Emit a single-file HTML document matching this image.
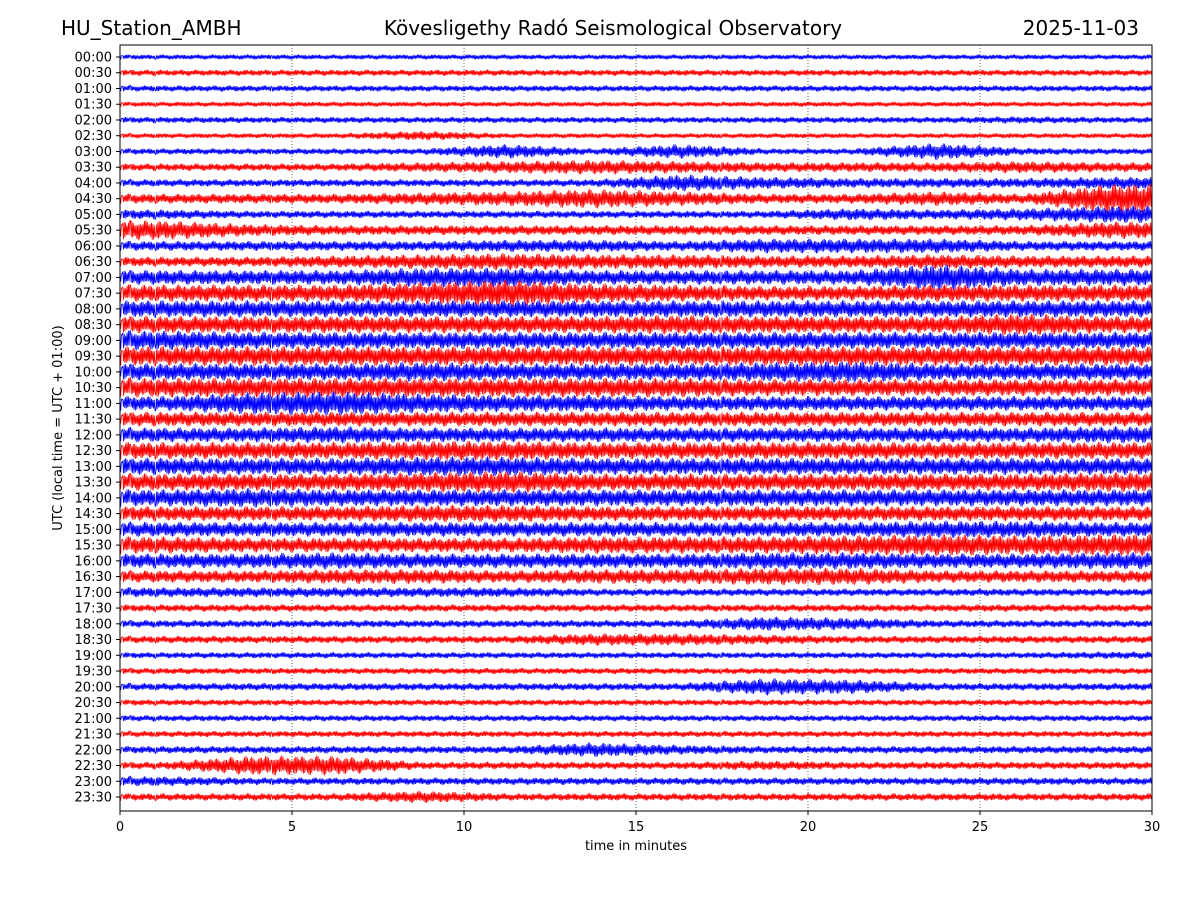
<!DOCTYPE html>
<html><head><meta charset="utf-8"><style>
body{margin:0;background:#fff;}
svg{display:block;font-family:"DejaVu Sans","Liberation Sans",sans-serif;}
</style></head><body>
<svg id="chart" width="1200" height="900" viewBox="0 0 1200 900" xmlns="http://www.w3.org/2000/svg">
<rect width="1200" height="900" fill="#fff"/>
<text x="61" y="35" font-size="20">HU_Station_AMBH</text>
<text x="613" y="35" font-size="20" text-anchor="middle">Kövesligethy Radó Seismological Observatory</text>
<text x="1139" y="35" font-size="20" text-anchor="end">2025-11-03</text>
<g id="grid"></g>
<g id="traces"></g>
<g id="yaxis"></g>
<g id="xaxis"></g>
<rect x="120" y="45" width="1032" height="766" fill="none" stroke="#000" stroke-width="1"/>
<text x="636" y="850" font-size="13" text-anchor="middle">time in minutes</text>
<text transform="translate(62,428) rotate(-90)" font-size="13" text-anchor="middle">UTC (local time = UTC + 01:00)</text>
</svg>
<script>
const xTicks=[0,5,10,15,20,25,30];
const rowLabels=[];
for(let h=0;h<24;h++){const hh=String(h).padStart(2,'0');rowLabels.push(hh+':00');rowLabels.push(hh+':30');}
// amplitude envelope (px half-amplitude) per row, 12 segments of 2.5 minutes
const amps=[
[2,2,2,2,2,2,2,2,2,2,2,2],
[2.5,2.5,2.5,2.5,2.5,2.5,2.5,2.5,2.5,2.5,2.5,2.5],
[2.5,2.5,2.5,2.5,2.5,2.5,2.5,2.5,2.5,2.5,2.5,2.5],
[2,2,2,2,2,2,2,2,2,2,2,2],
[2.5,2.5,2.5,2.5,2.5,2.5,2.5,2.5,2.5,2.5,3,2.5],
[2,2,2,4,2,2,2,2,2,2,2,2],
[2.5,2.5,2.5,2.5,6,2.5,6,2.5,2.5,7,3,2.5],
[3,3,3,4,5,6,5,4,4,4,5,4],
[3,3,3,3,3,3,7,5,4,4,4,5],
[4,4,4,5,6,8,6,4,4,6,4,12],
[4,3,3,3,3,3,3,3,5,4,5,7],
[8,5,4,4,4,4,4,4,4,4,4,7],
[4,4,4,4,5,5,4,6,6,6,4,4],
[4,4,5,6,7,6,6,5,5,6,5,5],
[6,6,6,8,8,6,6,6,6,11,7,7],
[7,7,7,9,11,8,7,6,6,7,7,7],
[7,7,7,7,7,7,7,7,7,7,7,7],
[7,7,7,7,7,7,8,7,7,7,9,7],
[8,7,7,7,7,7,7,7,7,7,7,7],
[8,8,8,8,8,8,8,8,8,8,8,8],
[7,7,7,8,7,7,7,8,9,7,7,7],
[8,8,8,8,8,8,8,7,7,7,7,7],
[6,9,10,8,7,7,6,6,6,6,6,6],
[6,6,6,6,6,6,6,6,6,6,6,6],
[6,6,7,6,6,6,6,6,6,6,6,7],
[7,7,7,8,8,7,7,7,7,7,7,7],
[7,7,7,8,8,7,7,7,7,7,7,7],
[7,7,7,8,9,7,7,7,7,7,7,8],
[7,8,7,7,7,7,7,7,7,7,7,7],
[6,6,6,7,7,6,6,6,6,6,6,6],
[6,6,6,6,6,6,6,6,6,7,7,6],
[7,6,6,6,6,7,7,7,8,9,8,9],
[6,6,7,6,6,6,6,7,7,6,6,7],
[5,5,6,6,5,6,6,7,7,5,5,5],
[4,4,4,4,4,3,3,3,3,3,3,3],
[3,3,3,3,3,3,3,3,3,3,3,3],
[3,3,3,3,3,3,3,6,5,3,3,3],
[3,3,3,3,3,5,5,4,3,3,3,3],
[2.5,2.5,2.5,2.5,2.5,2.5,2.5,2.5,2.5,2.5,2.5,3],
[2.5,2.5,2.5,2.5,2.5,2.5,2.5,2.5,2.5,2.5,2.5,2.5],
[3,3,3,3,3,3,3,7,6,3,3,3],
[2.5,2.5,2.5,2.5,2.5,2.5,2.5,2.5,2.5,2.5,2.5,2.5],
[2.5,2.5,2.5,2.5,2.5,2.5,2.5,2.5,2.5,2.5,2.5,2.5],
[2.5,2.5,2.5,2.5,2.5,2.5,2.5,2.5,2.5,2.5,2.5,2.5],
[3,3,3,3,3,6,4,3,3,3,3,3],
[3,8,8,3,3,3,3,4,3,3,3,3],
[4,3,3,3,3,3,3,3,3,3,3,3],
[3,3,3,5,3,3,3,3,3,3,3,3]
];
const NS='http://www.w3.org/2000/svg';
const X0=120,X1=1152,Y0=57,DY=(797-57)/47,GAIN=1.25;
const xs=m=>X0+(X1-X0)*m/30;
const ys=i=>Y0+i*DY;
const grid=document.getElementById('grid'),tr=document.getElementById('traces'),ya=document.getElementById('yaxis'),xa=document.getElementById('xaxis');
xTicks.forEach(t=>{
  if(t>0&&t<30){const l=document.createElementNS(NS,'line');
  
  
  l.setAttribute('x1',xs(t));l.setAttribute('x2',xs(t));l.setAttribute('y1',45);l.setAttribute('y2',811);
  l.setAttribute('stroke','#000');l.setAttribute('stroke-width','0.6');l.setAttribute('stroke-dasharray','1,2');grid.appendChild(l);}
  const k=document.createElementNS(NS,'line');
  
  
  k.setAttribute('x1',xs(t));k.setAttribute('x2',xs(t));k.setAttribute('y1',811);k.setAttribute('y2',815);k.setAttribute('stroke','#000');xa.appendChild(k);
  const tx=document.createElementNS(NS,'text');
  
  
  tx.setAttribute('x',xs(t));tx.setAttribute('y',831);tx.setAttribute('font-size','13');tx.setAttribute('text-anchor','middle');tx.textContent=t;xa.appendChild(tx);
});
rowLabels.forEach((lab,i)=>{
  const y=ys(i);
  const k=document.createElementNS(NS,'line');
  
  
  k.setAttribute('x1',116);k.setAttribute('x2',120);k.setAttribute('y1',y);k.setAttribute('y2',y);k.setAttribute('stroke','#000');ya.appendChild(k);
  const tx=document.createElementNS(NS,'text');
  
  
  tx.setAttribute('x',112);tx.setAttribute('y',y+4.5);tx.setAttribute('font-size','13');tx.setAttribute('text-anchor','end');tx.textContent=lab;ya.appendChild(tx);
  const a=amps[i];
  let d='';
  for(let px=0;px<=X1-X0;px+=0.7){
    const m=px/(X1-X0)*30;
    const f=Math.min(Math.max(m/2.5-0.5,0),a.length-1);
    const j=Math.floor(f),fr=f-j;
    const A=GAIN*(a[j]*(1-fr)+a[Math.min(j+1,a.length-1)]*fr);
    const n=Math.floor(px/0.7);
    const tex=(0.45+0.55*Math.abs(Math.sin(n*1.7)*Math.cos(n*0.31+i)))*((n%2)?1:-1);
    d+=(px===0?'M':'L')+(X0+px).toFixed(1)+','+(y+A*tex).toFixed(1);
  }
  const p=document.createElementNS(NS,'path');
  
  
  p.setAttribute('d',d);p.setAttribute('fill','none');p.setAttribute('stroke',i%2?'#ff0000':'#0000ff');p.setAttribute('stroke-width','0.8');
  tr.appendChild(p);
});
</script>
</body></html>
